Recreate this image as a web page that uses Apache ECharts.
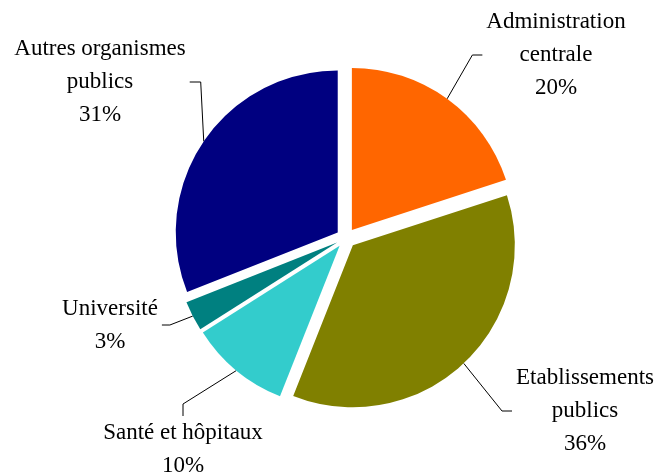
<!DOCTYPE html>
<html>
<head>
<meta charset="utf-8">
<script src="https://cdn.jsdelivr.net/npm/echarts@6/dist/echarts.min.js"></script>
<style>
  html, body { margin: 0; padding: 0; background: #fff; }
  #pie { width: 656px; height: 475px; }
</style>
</head>
<body>
<div id="pie"></div>
<script>
// slices, clockwise from 12 o'clock
var categories = ['Administration\ncentrale', 'Etablissements\npublics', 'Santé et hôpitaux', 'Université', 'Autres organismes\npublics']
var values = [20, 36, 10, 3, 31]
var colorList = ['#FF6600', '#808000', '#33CCCC', '#008080', '#000080']

// label block centres (text centred on these)
var labelPos = [[556, 55], [585, 411], [183, 449], [110, 325], [100, 82]]
var guideLen = [10, 10, 12, 8, 11]

var explode = 10
var total = values.reduce(function (a, b) { return a + b }, 0)

var myChart = echarts.init(document.getElementById('pie'))

// one pie per slice so every slice can be pulled out on its own
var series = values.map(function (v, k) {
  var before = values.slice(0, k).reduce(function (a, b) { return a + b }, 0)
  var ang = (before + v / 2) / total * Math.PI * 2
  return {
    type: 'pie',
    center: [346 + explode * Math.sin(ang), 238 - explode * Math.cos(ang)],
    radius: 162,
    startAngle: 90,
    silent: true,
    avoidLabelOverlap: false,
    label: {
      position: 'outside',
      formatter: '{b}\n{d}%',
      fontFamily: '"Liberation Serif", "DejaVu Serif", serif',
      fontSize: 23,
      lineHeight: 33,
      color: '#000',
      padding: [0, 4]
    },
    labelLine: {
      length: 15,
      length2: guideLen[k],
      lineStyle: { color: '#000', width: 1 }
    },
    labelLayout: function (params) {
      var p = labelPos[params.dataIndex]
      return { x: p[0], y: p[1], align: 'center', verticalAlign: 'middle' }
    },
    data: values.map(function (w, j) {
      return {
        name: categories[j],
        value: w,
        itemStyle: j === k ? { color: colorList[j], borderWidth: 0 } : { opacity: 0 },
        label: { show: j === k },
        labelLine: { show: j === k }
      }
    })
  }
})

myChart.setOption({
  animation: false,
  series: series
})
</script>
</body>
</html>
